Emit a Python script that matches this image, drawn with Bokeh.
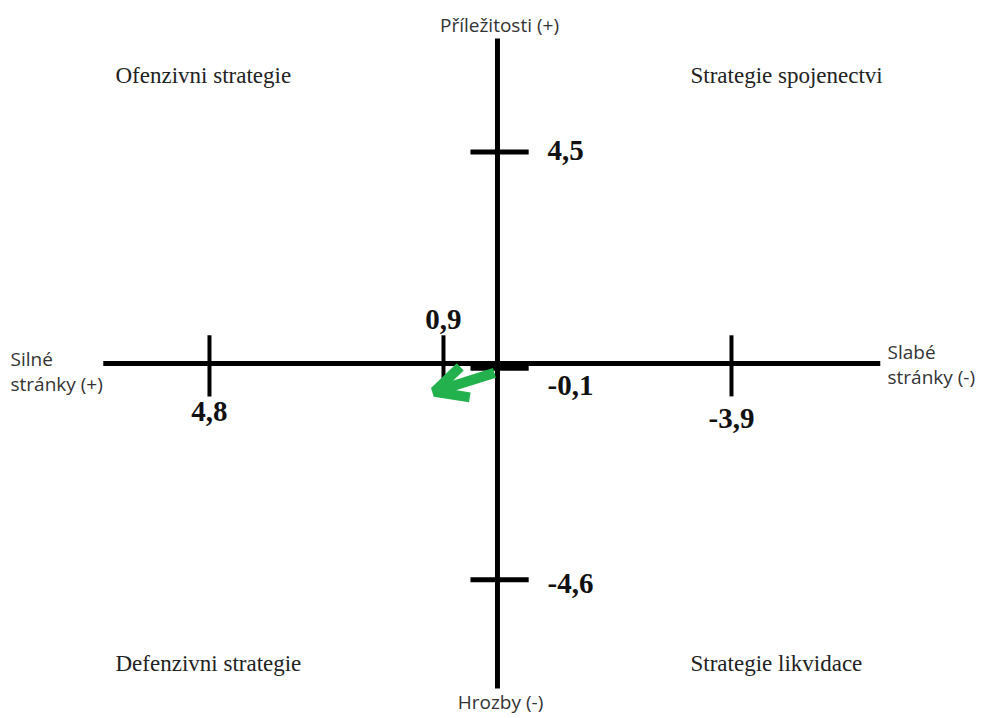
from bokeh.plotting import figure
from bokeh.models import Range1d, Label, Arrow, OpenHead, ColumnDataSource
from bokeh.embed import file_html
from bokeh.resources import INLINE
from bokeh.core.properties import value

# ---------------- data ----------------
# horizontal axis: Silné stránky (+) to the left, Slabé stránky (-) to the right
h_values = [4.8, 0.9, -3.9]
h_labels = ["4,8", "0,9", "-3,9"]
# vertical axis: Příležitosti (+) up, Hrozby (-) down
v_values = [4.5, -0.1, -4.6]
v_labels = ["4,5", "-0,1", "-4,6"]
# resulting position (strengths - weaknesses, opportunities - threats)
result_h = 0.9
result_v = -0.1

quadrant_names = ["Ofenzivni strategie", "Strategie spojenectvi",
                  "Defenzivni strategie", "Strategie likvidace"]
axis_top = "Příležitosti (+)"
axis_bottom = "Hrozby (-)"
axis_left = ["Silné", "stránky (+)"]
axis_right = ["Slabé", "stránky (-)"]

# ---------------- style ----------------
h_label_dy = [48, -44, 55]      # px offsets of value labels (below / above)
v_label_dy = [-1, 17, 4]
AX_X = (-6.57, 6.38)            # reach of the axis lines (data units)
AX_Y = (-6.915, 6.915)
GREEN = "#22b14c"
SERIF = "Liberation Serif"
SANS = "Open Sans"
W, H = 984, 718

p = figure(width=W, height=H,
           x_range=Range1d(-8.283, 8.117), y_range=Range1d(-7.553, 7.723),
           output_backend="svg", toolbar_location=None, min_border=0)
p.axis.visible = False
p.grid.visible = False
p.outline_line_color = None
p.background_fill_color = "white"
p.border_fill_color = "white"

# main axes
p.segment(x0=[AX_X[0], 0], y0=[0, AX_Y[0]], x1=[AX_X[1], 0], y1=[0, AX_Y[1]],
          line_color="black", line_width=5)

# ticks on horizontal axis (strengths positive to the left)
hx = [-v for v in h_values]
p.segment(x0=hx, y0=[-0.7] * len(hx), x1=hx, y1=[0.6] * len(hx),
          line_color="black", line_width=4)
# ticks on vertical axis
p.segment(x0=[-0.45] * len(v_values), y0=v_values, x1=[0.52] * len(v_values), y1=v_values,
          line_color="black", line_width=5)

hsrc = ColumnDataSource(dict(x=hx, y=[0] * len(hx), t=h_labels, dy=h_label_dy))
p.text(x="x", y="y", text="t", y_offset="dy", source=hsrc,
       text_font=value(SERIF), text_font_style="bold", text_font_size="29px",
       text_align="center", text_baseline="middle", text_color="#111111")

vsrc = ColumnDataSource(dict(x=[0] * len(v_values), y=v_values, t=v_labels, dy=v_label_dy))
p.text(x="x", y="y", text="t", x_offset=50, y_offset="dy", source=vsrc,
       text_font=value(SERIF), text_font_style="bold", text_font_size="29px",
       text_align="left", text_baseline="middle", text_color="#111111")

# result arrow (drawn slightly below the axis so it stays visible)
p.add_layout(Arrow(x_start=-0.05, y_start=result_v - 0.1,
                   x_end=-result_h - 0.15, y_end=result_v - 0.5,
                   line_color=GREEN, line_width=10,
                   end=OpenHead(size=32, line_color=GREEN, line_width=10)))

# quadrant names (screen units)
qpos = [(115, 643), (690, 643), (115, 55), (690, 55)]
for name, (sx, sy) in zip(quadrant_names, qpos):
    p.add_layout(Label(x=sx, y=sy, x_units="screen", y_units="screen", text=name,
                       text_font=SERIF, text_font_size="23px", text_color="#222222",
                       text_align="left", text_baseline="middle"))

def sans_label(txt, sx, sy, align):
    p.add_layout(Label(x=sx, y=sy, x_units="screen", y_units="screen", text=txt,
                       text_font=SANS, text_font_size="19px", text_color="#333333",
                       text_align=align, text_baseline="middle"))

sans_label(axis_top, 499, 694, "center")
sans_label(axis_bottom, 500, 17, "center")
sans_label(axis_left[0], 10, 360, "left")
sans_label(axis_left[1], 10, 335, "left")
sans_label(axis_right[0], 887, 367, "left")
sans_label(axis_right[1], 887, 342, "left")

open("out.html", "w").write(file_html(p, INLINE))
